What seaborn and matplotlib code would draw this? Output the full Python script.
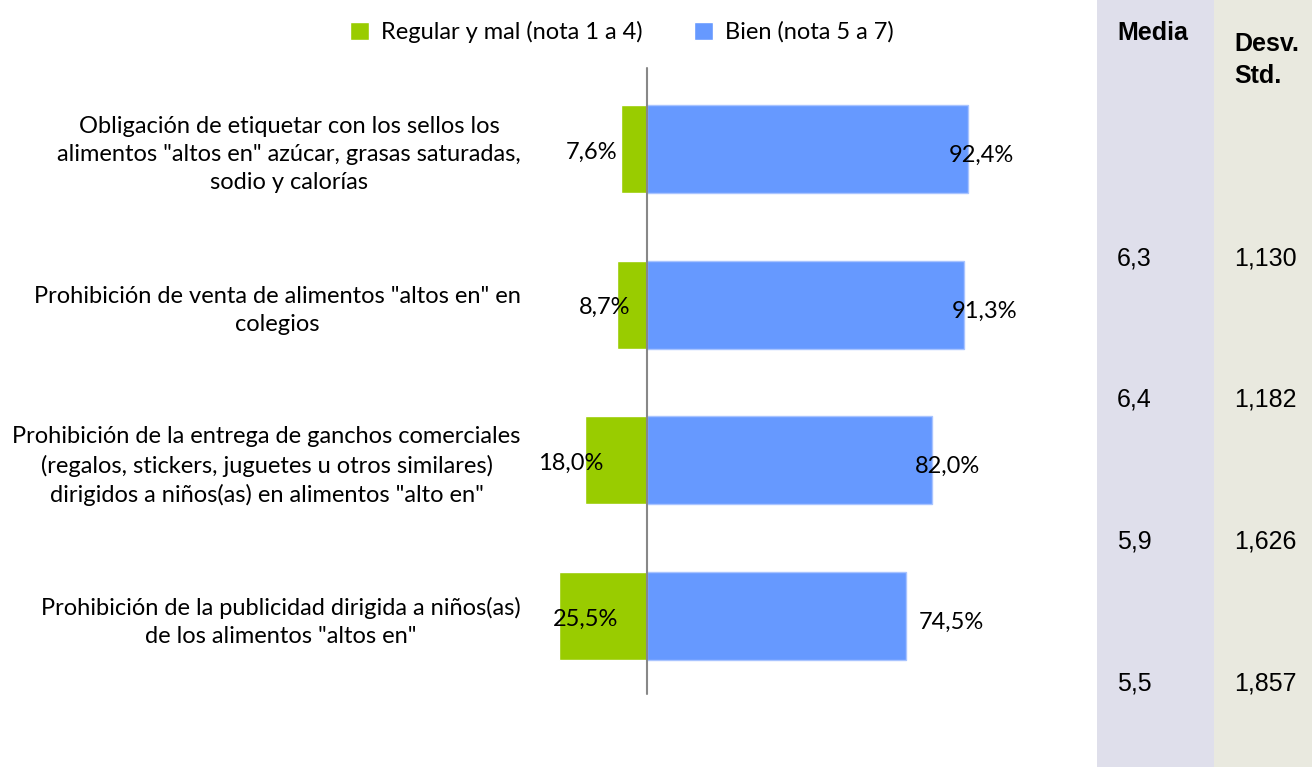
import matplotlib
matplotlib.use("Agg")
import matplotlib.pyplot as plt
import seaborn as sns
import pandas as pd
from matplotlib.patches import Rectangle, Patch

# data
categories = [
    'Obligación de etiquetar con los sellos los\nalimentos "altos en" azúcar, grasas saturadas,\nsodio y calorías',
    'Prohibición de venta de alimentos "altos en" en\ncolegios',
    'Prohibición de la entrega de ganchos comerciales\n(regalos, stickers, juguetes u otros similares)\ndirigidos a niños(as) en alimentos "alto en"',
    'Prohibición de la publicidad dirigida a niños(as)\nde los alimentos "altos en"',
]
regular_mal = [7.6, 8.7, 18.0, 25.5]
bien = [92.4, 91.3, 82.0, 74.5]
media = ["6,3", "6,4", "5,9", "5,5"]
desv_std = ["1,130", "1,182", "1,626", "1,857"]

series_names = ["Regular y mal (nota 1 a 4)", "Bien (nota 5 a 7)"]
GREEN = "#99CC00"
BLUE = "#6699FF"


def pct(v):
    return f"{v:.1f}".replace(".", ",") + "%"


sns.set_theme(style="white")
plt.rcParams["font.family"] = ["Lato", "DejaVu Sans"]
plt.rcParams["text.color"] = "black"
plt.rcParams["ytick.color"] = "black"

W, H = 1312, 767
fig = plt.figure(figsize=(W / 100, H / 100), dpi=100)

# shaded columns for the stats table
fig.patches.append(Rectangle((1097 / W, 0), 117 / W, 1, transform=fig.transFigure,
                             facecolor="#DFDFEB", edgecolor="none", zorder=0))
fig.patches.append(Rectangle((1214 / W, 0), 98 / W, 1, transform=fig.transFigure,
                             facecolor="#E9E9DF", edgecolor="none", zorder=0))

ax = fig.add_axes([543 / W, 1 - 694 / H, 451 / W, 623 / H])
ax.set_facecolor("none")

df = pd.DataFrame({"cat": categories,
                   "neg": [-v for v in regular_mal],
                   "pos": bien})

sns.barplot(data=df, x="neg", y="cat", orient="h", color=GREEN, width=0.565,
            saturation=1, ax=ax)
sns.barplot(data=df, x="pos", y="cat", orient="h", color=BLUE, width=0.565,
            saturation=1, ax=ax, edgecolor="#A9C4FF", linewidth=1)

ax.set_xlim(-30, 100)
ax.set_ylim(3.5, -0.5)
ax.axvline(0, ymin=0, ymax=1.005, color="#888888", lw=1.5, clip_on=False)
for s in ax.spines.values():
    s.set_visible(False)
ax.set_xticks([])
ax.set_xlabel("")
ax.set_ylabel("")
ax.tick_params(axis="y", length=0, pad=16, labelsize=17, labelcolor="black")
for lab in ax.get_yticklabels():
    lab.set_multialignment("center")
    lab.set_linespacing(1.42)

# percentage labels (positions nudged like the original)
neg_lab_x = [-15.9, -12.1, -21.9, -17.6]
pos_lab_x = [96.3, 97.4, 86.7, 87.6]
for i in range(len(categories)):
    ax.text(neg_lab_x[i], i + 0.02, pct(regular_mal[i]), ha="center", va="center", fontsize=17)
    ax.text(pos_lab_x[i], i + 0.04, pct(bien[i]), ha="center", va="center", fontsize=17)

# legend at the top
handles = [Patch(facecolor=GREEN), Patch(facecolor=BLUE)]
fig.legend(handles, series_names, loc="center", bbox_to_anchor=(622 / W, 1 - 32 / H), ncol=2,
           frameon=False, fontsize=17, handlelength=0.8, handleheight=0.8,
           handletextpad=0.5, columnspacing=2.2)

# stats table on the right
tfont = ["Liberation Sans", "DejaVu Sans"]
fig.text(1117 / W, 1 - 33 / H, "Media", fontsize=18, fontweight="bold", family=tfont, va="center")
fig.text(1234 / W, 1 - 60 / H, "Desv.\nStd.", fontsize=18, fontweight="bold", family=tfont,
         va="center", linespacing=1.45)
for i in range(len(media)):
    y = 258 + i * 141.7
    fig.text(1117 / W, 1 - y / H, media[i], fontsize=18, family=tfont, va="center")
    fig.text(1234 / W, 1 - y / H, desv_std[i], fontsize=18, family=tfont, va="center")

fig.savefig("out.png", dpi=100)
